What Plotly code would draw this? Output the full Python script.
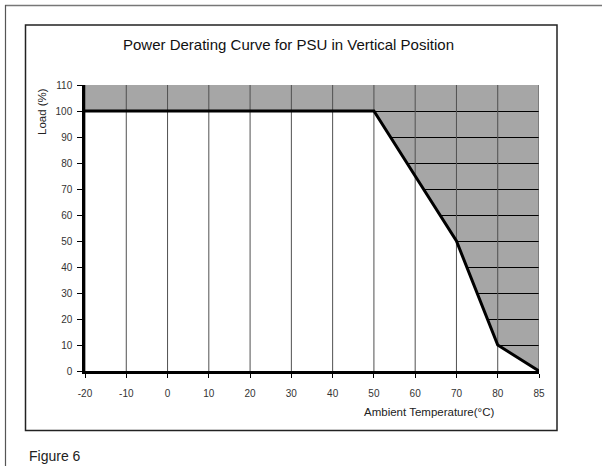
import plotly.graph_objects as go

# ---- data ----
temps = ["-20", "-10", "0", "10", "20", "30", "40", "50", "60", "70", "80", "85"]
load_pct = [100, 100, 100, 100, 100, 100, 100, 100, 75, 50, 10, 0]
y_ticks = [0, 10, 20, 30, 40, 50, 60, 70, 80, 90, 100, 110]
y_max = 110

title_text = "Power Derating Curve for PSU in Vertical Position"
x_title = "Ambient Temperature(\u00b0C)"
y_title = "Load (%)"
caption = "Figure 6"

W, H = 602, 466
L, R, T, B = 85, 539, 85, 371  # plot area in window pixels


def px_x(p):
    return (p - L) / (R - L)


def px_y(p):
    return (B - p) / (B - T)


FONT = "Liberation Sans, Arial, sans-serif"
GRAY = "#a6a6a6"

fig = go.Figure()

# white region under the curve (hides horizontal gridlines)
fig.add_trace(go.Scatter(x=temps, y=load_pct, mode="lines", fill="tozeroy",
                         fillcolor="white", line=dict(width=0, color="white"),
                         hoverinfo="skip", showlegend=False))

# vertical grid lines drawn above the white fill
vx, vy = [], []
for t in temps:
    vx += [t, t, None]
    vy += [0, y_max, None]
fig.add_trace(go.Scatter(x=vx, y=vy, mode="lines", line=dict(color="#505050", width=1),
                         hoverinfo="skip", showlegend=False, connectgaps=False))

# derating curve
fig.add_trace(go.Scatter(x=temps, y=load_pct, mode="lines",
                         line=dict(color="black", width=3),
                         showlegend=False))

fig.update_layout(
    width=W, height=H,
    margin=dict(l=L, r=W - R, t=T, b=H - B, pad=0),
    paper_bgcolor="white",
    plot_bgcolor=GRAY,
    font=dict(family=FONT, size=10, color="#222"),
    xaxis=dict(type="category", categoryorder="array", categoryarray=temps,
               range=[0, len(temps) - 1], showgrid=False, zeroline=False,
               showline=True, linecolor="black", linewidth=3,
               ticks="outside", ticklen=4, tickcolor="black", tickwidth=1,
               ticklabelstandoff=7,
               tickfont=dict(family=FONT, size=10, color="#333"),
               fixedrange=True),
    yaxis=dict(range=[0, y_max], tickvals=y_ticks, showgrid=True,
               gridcolor="black", gridwidth=1, zeroline=False,
               showline=True, linecolor="black", linewidth=2.5,
               ticks="outside", ticklen=5, tickcolor="black", tickwidth=1,
               ticklabelstandoff=3,
               tickfont=dict(family=FONT, size=10, color="#333"),
               fixedrange=True),
    shapes=[
        # outer page frame (top and left)
        dict(type="line", xref="paper", yref="paper", x0=px_x(5), x1=px_x(602),
             y0=px_y(5.5), y1=px_y(5.5), line=dict(color="#777", width=1.5)),
        dict(type="line", xref="paper", yref="paper", x0=px_x(5.5), x1=px_x(5.5),
             y0=px_y(5), y1=px_y(466), line=dict(color="#555", width=1.2)),
        # chart frame
        dict(type="rect", xref="paper", yref="paper", x0=px_x(25.5), x1=px_x(557),
             y0=px_y(25), y1=px_y(430.5), line=dict(color="#222", width=1.5),
             fillcolor="rgba(0,0,0,0)", layer="below"),
    ],
    annotations=[
        dict(text=title_text, xref="paper", yref="paper", x=px_x(288), y=px_y(44),
             showarrow=False, xanchor="center", yanchor="middle",
             font=dict(family=FONT, size=15, color="#111")),
        dict(text=y_title, xref="paper", yref="paper", x=px_x(42), y=px_y(112),
             showarrow=False, xanchor="center", yanchor="middle", textangle=-90,
             font=dict(family=FONT, size=11.5, color="#222")),
        dict(text=x_title, xref="paper", yref="paper", x=px_x(429), y=px_y(412.5),
             showarrow=False, xanchor="center", yanchor="middle",
             font=dict(family=FONT, size=11.5, color="#222")),
        dict(text=caption, xref="paper", yref="paper", x=px_x(27), y=px_y(456),
             showarrow=False, xanchor="left", yanchor="middle",
             font=dict(family=FONT, size=14, color="#222")),
    ],
)

# remove the default 8px page margin so the figure sits at the window's corner
fig.write_html("out.html", config={"displayModeBar": False},
               post_script="document.body.style.margin='0';")
